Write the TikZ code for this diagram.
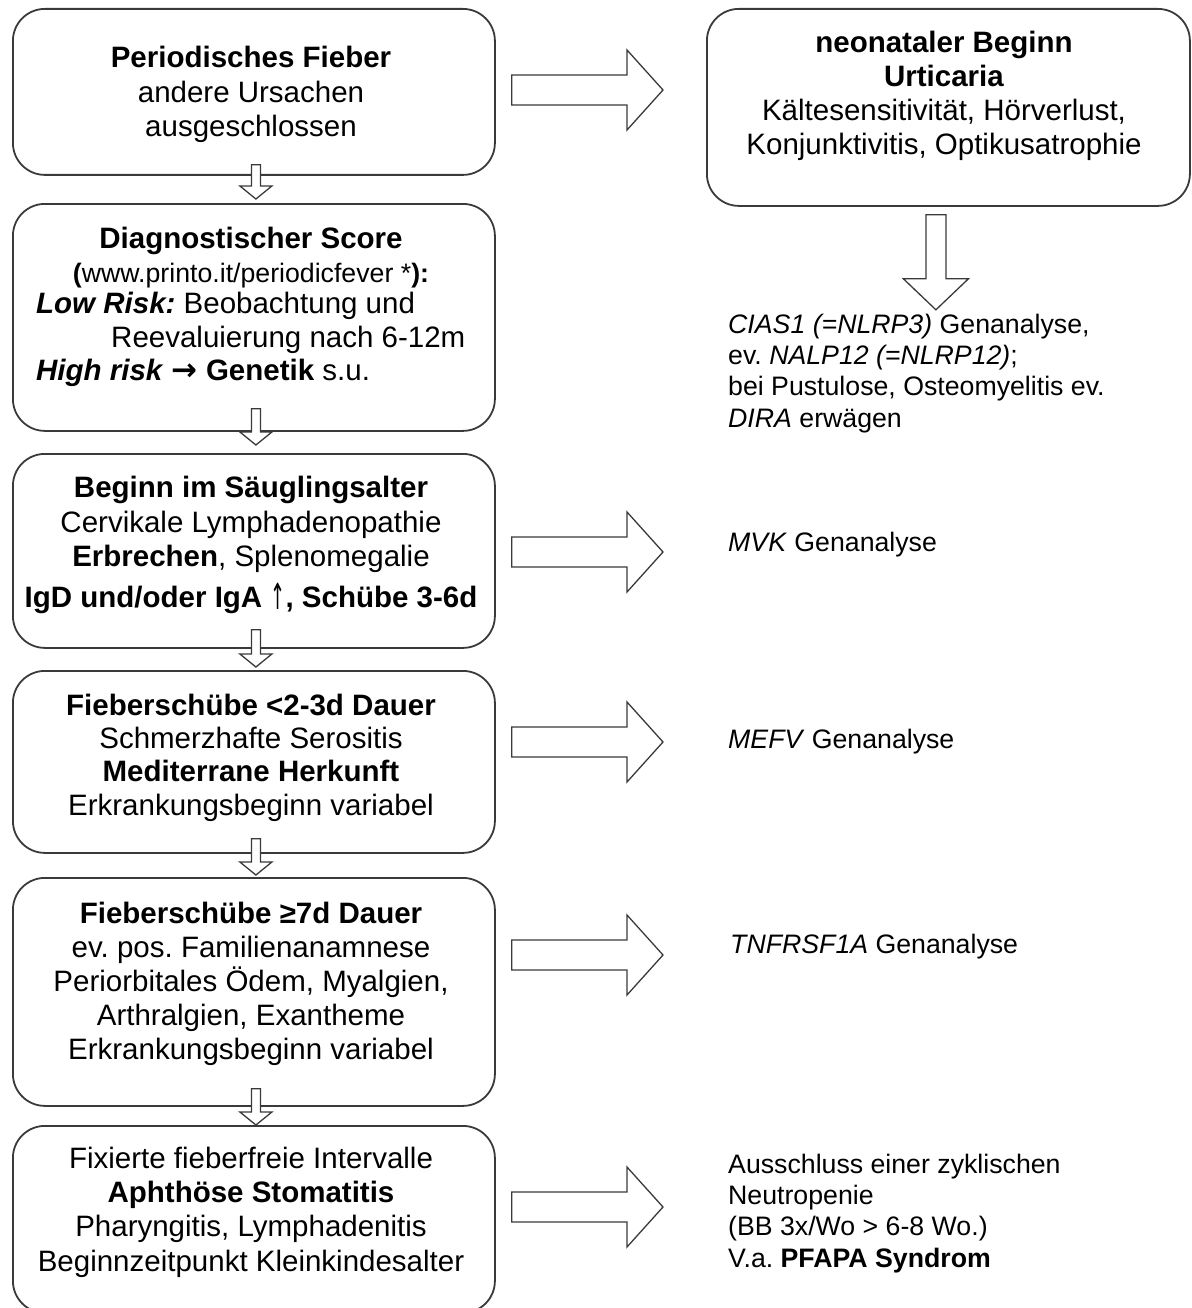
\documentclass[tikz,border=0pt]{standalone}
\usepackage{fontspec}
\setmainfont{Liberation Sans}
\newfontfamily\dejavu{DejaVu Sans}
\usetikzlibrary{calc}
\definecolor{lc}{HTML}{3A3A3A}
\frenchspacing
\tikzset{
  box/.style={draw=lc, line width=1.8pt, rounded corners=32pt, fill=white, inner sep=0pt, anchor=north west},
  txt/.style={inner sep=0pt, align=center, anchor=base, font=\fontsize{29.5}{34.5}\selectfont},
  ltxt/.style={inner sep=0pt, anchor=base west, font=\fontsize{29.5}{34.5}\selectfont},
  rtxt/.style={inner sep=0pt, align=left, anchor=base west, font=\fontsize{26.7}{31.3}\selectfont},
  barrow/.style={draw=lc, line width=1.3pt, fill=white, line join=miter},
}
\newcommand\sdarrow[4]{%
  \coordinate (sdA) at ($(#1.south)+(2,-#3)$);
  \coordinate (sdB) at ($(#2.north)+(2,-#4)$);
  \draw[barrow] ($(sdA)+(-4.5,0)$) -- ($(sdA)+(4.5,0)$) -- ($(sdB)+(4.5,-13)$) -- ($(sdB)+(16,-13)$) -- (sdB) -- ($(sdB)+(-16,-13)$) -- ($(sdB)+(-4.5,-13)$) -- cycle;}
\newcommand\brarrow[2]{%
  \coordinate (brS) at ($(#1.east)+(16,0)$);
  \coordinate (brA) at (brS |- #2);
  \draw[barrow] ($(brA)+(0,-15)$) -- ($(#2)+(-36,-15)$) -- ($(#2)+(-36,-40)$) -- (#2) -- ($(#2)+(-36,40)$) -- ($(#2)+(-36,15)$) -- ($(brA)+(0,15)$) -- cycle;}
\begin{document}
\begin{tikzpicture}[x=1pt,y=-1pt]
\useasboundingbox (0,0) rectangle (1191,1308);
\clip (0,0) rectangle (1191,1308);

% boxes
\node[box, minimum width=482pt, minimum height=166pt] (b1) at (12,8) {};
\node[box, minimum width=482pt, minimum height=227pt] (b2) at (12,203) {};
\node[box, minimum width=482pt, minimum height=194pt] (b3) at (12,453) {};
\node[box, minimum width=482pt, minimum height=182pt] (b4) at (12,670) {};
\node[box, minimum width=482pt, minimum height=228pt] (b5) at (12,877) {};
\node[box, minimum width=482pt, minimum height=187pt] (b6) at (12,1125) {};
\node[box, minimum width=483pt, minimum height=197pt] (bt) at (706,8) {};

% small down arrows
\sdarrow{b1}{b2}{11}{4}
\sdarrow{b2}{b3}{23}{8}
\sdarrow{b3}{b4}{19}{3}
\sdarrow{b4}{b5}{15}{2}
\sdarrow{b5}{b6}{18}{0}

% right arrows
\coordinate (a1) at (663,90);
\coordinate (a3) at (663,552);
\coordinate (a4) at (663,742);
\coordinate (a5) at (663,955);
\coordinate (a6) at (663,1207);
\brarrow{b1}{a1}
\brarrow{b3}{a3}
\brarrow{b4}{a4}
\brarrow{b5}{a5}
\brarrow{b6}{a6}

% big down arrow
\coordinate (dA) at ($(bt.south)+(-12.5,8)$);
\coordinate (dB) at ($(bt.south)+(-12.5,103)$);
\draw[barrow] ($(dA)+(-10,0)$) -- ($(dA)+(10,0)$) -- ($(dB)+(10,-31)$) -- ($(dB)+(32.5,-31)$) -- (dB) -- ($(dB)+(-32.5,-31)$) -- ($(dB)+(-10,-31)$) -- cycle;

% texts in boxes (multi-line nodes: base anchor = last line baseline)
\node[txt] (t1) at (251,137) {\textbf{Periodisches Fieber}\\andere Ursachen\\ausgeschlossen};

\node[txt] (t2a) at (251,248) {\textbf{Diagnostischer Score}};
\node[txt, font=\fontsize{26.7}{31}\selectfont] (t2b) at (251,282) {\textbf{(}www.printo.it/periodicfever *\textbf{):}};
\node[ltxt] (t2c) at (36,313) {\textbf{\textit{Low Risk:}} Beobachtung und};
\node[ltxt] (t2d) at (111,347) {Reevaluierung nach 6-12m};
\node[ltxt] (t2e) at (36,380) {\textbf{\textit{High risk} {\dejavu\bfseries\fontsize{31}{31}\selectfont →} Genetik} s.u.};

\node[txt] (t3) at (251,607) {\textbf{Beginn im Säuglingsalter}\\Cervikale Lymphadenopathie\\\textbf{Erbrechen}, Splenomegalie\\[6pt]\textbf{IgD und/oder IgA} {\dejavu\fontsize{36}{36}\selectfont\raisebox{-2pt}{\scalebox{0.5}[1]{↑}}}\textbf{, Schübe 3-6d}};

\node[txt, font=\fontsize{29.5}{33.3}\selectfont] (t4) at (251,815) {\textbf{Fieberschübe <2-3d Dauer}\\Schmerzhafte Serositis\\\textbf{Mediterrane Herkunft}\\Erkrankungsbeginn variabel};

\node[txt, font=\fontsize{29.5}{34}\selectfont] (t5) at (251,1059) {\textbf{Fieberschübe ≥7d Dauer}\\ev. pos. Familienanamnese\\Periorbitales Ödem, Myalgien,\\Arthralgien, Exantheme\\Erkrankungsbeginn variabel};

\node[txt, font=\fontsize{29.5}{34.3}\selectfont] (t6) at (251,1271) {Fixierte fieberfreie Intervalle\\\textbf{Aphthöse Stomatitis}\\Pharyngitis, Lymphadenitis\\Beginnzeitpunkt Kleinkindesalter};

\node[txt, font=\fontsize{29.5}{34}\selectfont] (tt) at (944,155) {\textbf{neonataler Beginn}\\\textbf{Urticaria}\\Kältesensitivität, Hörverlust,\\Konjunktivitis, Optikusatrophie};

% right texts
\node[rtxt] (r1) at (728,427) {\textit{CIAS1 (=NLRP3)} Genanalyse,\\ev. \textit{NALP12 (=NLRP12)};\\bei Pustulose, Osteomyelitis ev.\\\textit{DIRA} erwägen};
\node[rtxt] (r3) at (728,551) {\textit{MVK} Genanalyse};
\node[rtxt] (r4) at (728,748) {\textit{MEFV} Genanalyse};
\node[rtxt] (r5) at (730,953) {\textit{TNFRSF1A} Genanalyse};
\node[rtxt] (r6) at (728,1267) {Ausschluss einer zyklischen\\Neutropenie\\(BB 3x/Wo > 6-8 Wo.)\\V.a. \textbf{PFAPA Syndrom}};
\end{tikzpicture}
\end{document}
